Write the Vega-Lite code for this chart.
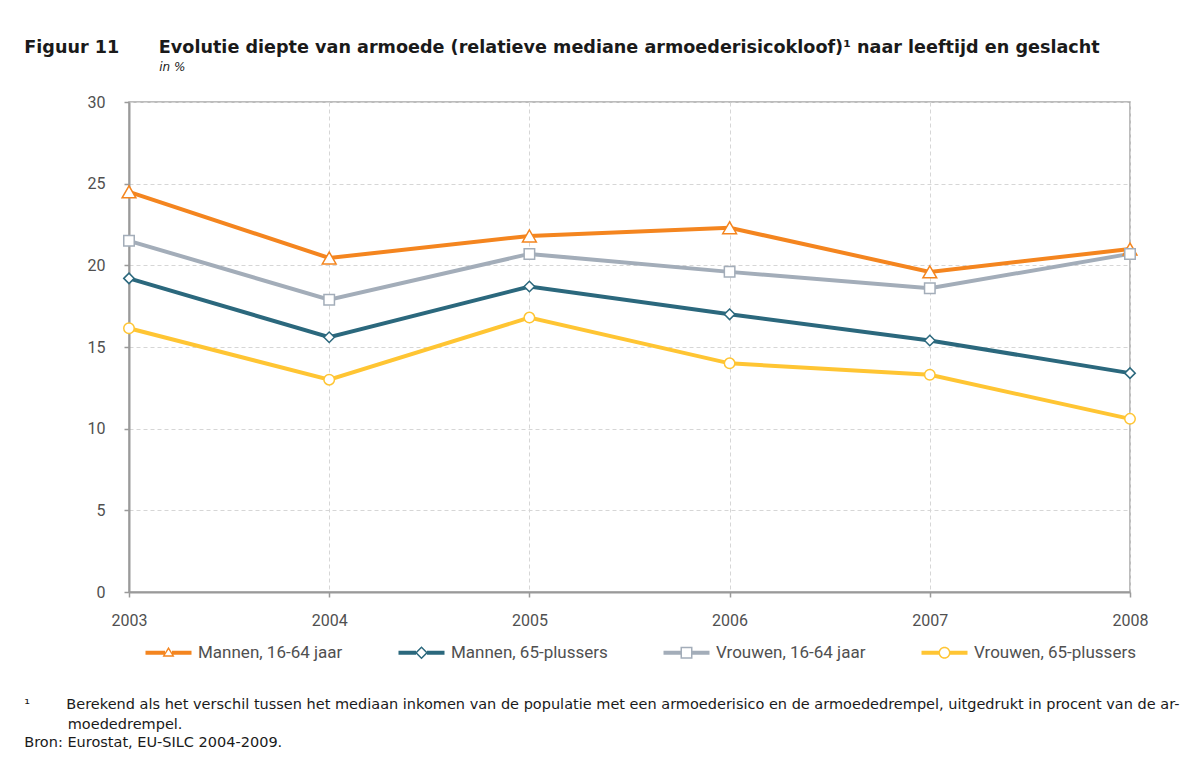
{
  "$schema": "https://vega.github.io/schema/vega-lite/v6.json",
  "background": "white",
  "padding": {"left": 24, "top": 38, "right": 10, "bottom": 10},
  "title": {
    "text": "Figuur 11\u2003\u2003\u2005Evolutie diepte van armoede (relatieve mediane armoederisicokloof)¹ naar leeftijd en geslacht",
    "subtitle": "\u200B\u2003\u2003\u2003\u2003\u2003\u2003\u2003\u2003\u2003\u2003\u2003\u2005in %",
    "anchor": "start",
    "font": "DejaVu Sans",
    "fontSize": 17.6,
    "fontWeight": "bold",
    "color": "#1a1a1a",
    "subtitleFont": "DejaVu Sans",
    "subtitleFontSize": 12,
    "subtitleFontStyle": "italic",
    "subtitleColor": "#1a1a1a",
    "subtitlePadding": 6,
    "offset": 20
  },
  "resolve": {"legend": {"color": "independent", "shape": "independent"}},
  "vconcat": [
    {
      "title": {
        "text": ["¹\u2003\u2003\u2002Berekend als het verschil tussen het mediaan inkomen van de populatie met een armoederisico en de armoededrempel, uitgedrukt in procent van de ar-", "\u200B\u2003\u2003\u2002\u2002moededrempel."],
        "subtitle": "Bron: Eurostat, EU-SILC 2004-2009.",
        "orient": "bottom",
        "anchor": "start",
        "font": "DejaVu Sans",
        "fontSize": 14.5,
        "fontWeight": "normal",
        "color": "#1a1a1a",
        "lineHeight": 20,
        "subtitleFont": "DejaVu Sans",
        "subtitleFontSize": 14.5,
        "subtitleColor": "#1a1a1a",
        "subtitlePadding": 4,
        "offset": 36
      },
      "resolve": {"legend": {"color": "independent", "shape": "independent"}},
      "vconcat": [
        {
          "width": 1001,
          "height": 490,
          "data": {
            "values": [
              {"year": "2003", "series": "Mannen, 16-64 jaar", "value": 24.5},
              {"year": "2004", "series": "Mannen, 16-64 jaar", "value": 20.45},
              {"year": "2005", "series": "Mannen, 16-64 jaar", "value": 21.8},
              {"year": "2006", "series": "Mannen, 16-64 jaar", "value": 22.3},
              {"year": "2007", "series": "Mannen, 16-64 jaar", "value": 19.6},
              {"year": "2008", "series": "Mannen, 16-64 jaar", "value": 21.0},
              {"year": "2003", "series": "Mannen, 65-plussers", "value": 19.2},
              {"year": "2004", "series": "Mannen, 65-plussers", "value": 15.6},
              {"year": "2005", "series": "Mannen, 65-plussers", "value": 18.7},
              {"year": "2006", "series": "Mannen, 65-plussers", "value": 17.0},
              {"year": "2007", "series": "Mannen, 65-plussers", "value": 15.4},
              {"year": "2008", "series": "Mannen, 65-plussers", "value": 13.4},
              {"year": "2003", "series": "Vrouwen, 16-64 jaar", "value": 21.5},
              {"year": "2004", "series": "Vrouwen, 16-64 jaar", "value": 17.9},
              {"year": "2005", "series": "Vrouwen, 16-64 jaar", "value": 20.7},
              {"year": "2006", "series": "Vrouwen, 16-64 jaar", "value": 19.6},
              {"year": "2007", "series": "Vrouwen, 16-64 jaar", "value": 18.6},
              {"year": "2008", "series": "Vrouwen, 16-64 jaar", "value": 20.7},
              {"year": "2003", "series": "Vrouwen, 65-plussers", "value": 16.15},
              {"year": "2004", "series": "Vrouwen, 65-plussers", "value": 13.0},
              {"year": "2005", "series": "Vrouwen, 65-plussers", "value": 16.8},
              {"year": "2006", "series": "Vrouwen, 65-plussers", "value": 14.0},
              {"year": "2007", "series": "Vrouwen, 65-plussers", "value": 13.3},
              {"year": "2008", "series": "Vrouwen, 65-plussers", "value": 10.6}
            ]
          },
          "encoding": {
            "x": {
              "field": "year",
              "type": "ordinal",
              "scale": {"type": "point", "padding": 0},
              "axis": {
                "title": null,
                "labelAngle": 0,
                "ticks": true,
                "tickSize": 5,
                "tickColor": "#9a9a9a",
                "tickWidth": 1.5,
                "labelPadding": 15,
                "grid": true,
                "gridDash": [4, 3],
                "gridColor": "#d6d6d6",
                "gridWidth": 1,
                "domainColor": "#9a9a9a",
                "domainWidth": 2
              }
            },
            "y": {
              "field": "value",
              "type": "quantitative",
              "scale": {"domain": [0, 30], "nice": false},
              "axis": {
                "title": null,
                "values": [0, 5, 10, 15, 20, 25, 30],
                "ticks": true,
                "tickSize": 5,
                "tickColor": "#9a9a9a",
                "tickWidth": 1.5,
                "labelPadding": 19,
                "minExtent": 104,
                "maxExtent": 104,
                "grid": true,
                "gridDash": [4, 3],
                "gridColor": "#d6d6d6",
                "gridWidth": 1,
                "domainColor": "#9a9a9a",
                "domainWidth": 2
              }
            }
          },
          "layer": [
            {
              "mark": {"type": "line", "strokeWidth": 4},
              "encoding": {
                "color": {
                  "field": "series",
                  "type": "nominal",
                  "scale": {
                    "domain": ["Mannen, 16-64 jaar", "Mannen, 65-plussers", "Vrouwen, 16-64 jaar", "Vrouwen, 65-plussers"],
                    "range": ["#f4851f", "#2b687d", "#a3adb9", "#ffc533"]
                  },
                  "legend": {
                    "title": null,
                    "orient": "bottom",
                    "direction": "horizontal",
                    "offset": 16,
                    "symbolSize": 4,
                    "symbolOffset": 31,
                    "labelOffset": 21,
                    "columnPadding": 39,
                    "labelLimit": 400,
                    "labelFont": "Roboto",
                    "labelFontSize": 17,
                    "labelColor": "#505050",
                    "encode": {
                      "symbols": {
                        "update": {
                          "fill": {"scale": "color", "field": "value"},
                          "stroke": {"value": "transparent"},
                          "strokeWidth": {"value": 0},
                          "opacity": {"value": 1},
                          "fillOpacity": {"value": 1}
                        }
                      }
                    }
                  }
                }
              }
            },
            {
              "mark": {"type": "point", "filled": true, "opacity": 0},
              "encoding": {
                "shape": {
                  "field": "series",
                  "type": "nominal",
                  "scale": {
                    "domain": ["Mannen, 16-64 jaar", "Mannen, 65-plussers", "Vrouwen, 16-64 jaar", "Vrouwen, 65-plussers"],
                    "range": [
                      "M-23,-2H-3.5V2H-23Z M3.5,-2H23V2H3.5Z M0,-6L6,4L-6,4Z M0,-3.2L-3.6,2.6L3.6,2.6Z",
                      "M-23,-2H-5.5V2H-23Z M5.5,-2H23V2H5.5Z M0,-6.5L6.5,0L0,6.5L-6.5,0Z M0,-4.4L-4.4,0L0,4.4L4.4,0Z",
                      "M-23,-2H-5.5V2H-23Z M5.5,-2H23V2H5.5Z M-6,-6H6V6H-6Z M-4.5,-4.5V4.5H4.5V-4.5Z",
                      "M-23,-2H-5V2H-23Z M5,-2H23V2H5Z M6,0A6,6 0 1,1 -6,0A6,6 0 1,1 6,0Z M4.5,0A4.5,4.5 0 1,0 -4.5,0A4.5,4.5 0 1,0 4.5,0Z"
                    ]
                  },
                  "legend": null
                }
              }
            },
            {
              "transform": [{"filter": "datum.series === 'Mannen, 16-64 jaar'"}],
              "mark": {"type": "point", "shape": "triangle-up", "size": 190, "filled": false, "fill": "white", "stroke": "#f4851f", "opacity": 1, "strokeWidth": 1.5}
            },
            {
              "transform": [{"filter": "datum.series === 'Mannen, 65-plussers'"}],
              "mark": {"type": "point", "shape": "diamond", "size": 110, "filled": false, "fill": "white", "stroke": "#2b687d", "opacity": 1, "strokeWidth": 1.5}
            },
            {
              "transform": [{"filter": "datum.series === 'Vrouwen, 16-64 jaar'"}],
              "mark": {"type": "point", "shape": "square", "size": 110, "filled": false, "fill": "white", "stroke": "#a3adb9", "opacity": 1, "strokeWidth": 1.5}
            },
            {
              "transform": [{"filter": "datum.series === 'Vrouwen, 65-plussers'"}],
              "mark": {"type": "point", "shape": "circle", "size": 110, "filled": false, "fill": "white", "stroke": "#ffc533", "opacity": 1, "strokeWidth": 1.5}
            }
          ]
        }
      ]
    }
  ],
  "config": {
    "view": {"stroke": "#a6a6a6", "strokeWidth": 1.5},
    "axis": {
      "labelFont": "Roboto",
      "labelFontSize": 16,
      "labelColor": "#505050"
    }
  }
}
